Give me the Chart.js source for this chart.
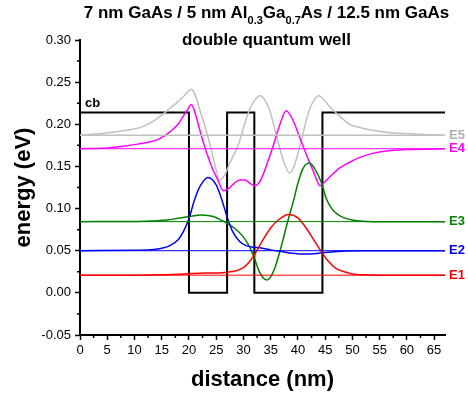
<!DOCTYPE html>
<html>
<head>
<meta charset="utf-8">
<script src="https://cdn.jsdelivr.net/npm/chart.js@4.4.1/dist/chart.umd.min.js"></script>
<style>
  html, body { margin: 0; padding: 0; background: #fff; }
  #wrap { position: relative; width: 468px; height: 394px; }
  #wrap canvas { position: absolute; left: 0; top: 0; }
  .title {
    position: absolute; left: 65px; width: 403px; text-align: center;
    font: bold 17px "Liberation Sans", Arial, sans-serif; line-height: 17px;
    color: #000; white-space: nowrap;
  }
  .title sub { font-size: 11px; vertical-align: -6px; line-height: 0; }
</style>
</head>
<body>
<div id="wrap">
  <canvas id="chart" width="468" height="394"></canvas>
  <div class="title" style="top:4px">7 nm GaAs / 5 nm Al<sub>0.3</sub>Ga<sub>0.7</sub>As / 12.5 nm GaAs</div>
  <div class="title" style="top:31px">double quantum well</div>
</div>
<script>
// energy levels (eV)
const levelNames = ["E1", "E2", "E3", "E4", "E5"];
const levelEnergy = [0.021, 0.050, 0.0845, 0.171, 0.187];
const levelColors = ["#ff0000", "#0000ff", "#008000", "#ff00ff", "#c0c0c0"];
const distanceMax = 67;

// conduction band profile
const cbDistance = [0, 20, 20, 27, 27, 32, 32, 44.5, 44.5, 67];
const cbEnergy = [0.214, 0.214, 0, 0, 0.214, 0.214, 0, 0, 0.214, 0.214];

// wavefunctions (offset by level)
const e1Distance = [0, 10, 15, 18, 20, 23, 26, 27, 28.5, 30, 31, 32, 33.5, 35, 36.5, 38.3, 40, 41.5, 43, 44.5, 45.5, 47, 48.5, 50, 52, 55, 67];
const e1Energy = [0.021, 0.021, 0.0215, 0.022, 0.023, 0.0235, 0.024, 0.0245, 0.026, 0.030, 0.036, 0.045, 0.062, 0.077, 0.087, 0.093, 0.089, 0.077, 0.062, 0.047, 0.038, 0.029, 0.025, 0.0225, 0.0215, 0.021, 0.021];

const e2Distance = [0, 10, 13, 15, 16.5, 18, 19, 20, 21, 22, 23.5, 25, 26, 27, 28, 29.3, 30.5, 32, 33, 35, 37, 39, 41, 43, 45, 48, 52, 67];
const e2Energy = [0.050, 0.0505, 0.051, 0.053, 0.056, 0.063, 0.073, 0.088, 0.110, 0.126, 0.137, 0.128, 0.111, 0.090, 0.073, 0.061, 0.056, 0.054, 0.0535, 0.051, 0.049, 0.047, 0.046, 0.0465, 0.048, 0.0495, 0.050, 0.050];

const e3Distance = [0, 12, 16, 18, 20, 22.3, 24.5, 26, 27, 28.5, 29.9, 31, 31.9, 32.8, 33.6, 34.3, 35, 35.8, 36.6, 37.5, 38.3, 39.1, 40, 40.9, 42.1, 43.2, 44.3, 45.2, 46.2, 47.3, 48.5, 50, 52, 55, 67];
const e3Energy = [0.0845, 0.085, 0.0865, 0.0885, 0.0905, 0.0924, 0.0905, 0.086, 0.0826, 0.076, 0.067, 0.056, 0.043, 0.027, 0.018, 0.0154, 0.019, 0.030, 0.047, 0.069, 0.089, 0.107, 0.130, 0.147, 0.154, 0.146, 0.131, 0.112, 0.100, 0.093, 0.089, 0.0865, 0.085, 0.0845, 0.0845];

const e4Distance = [0, 5, 8, 11, 12.8, 14.65, 16.5, 18, 18.9, 19.7, 20.45, 21.2, 22, 23.2, 24.4, 25.3, 26.3, 27.3, 28.3, 29.3, 30.3, 31.2, 32, 32.8, 33.6, 34.5, 35.4, 36.6, 37.85, 39, 40.3, 41.5, 42.7, 43.4, 44, 44.8, 45.6, 46.4, 47.6, 49.5, 51.5, 53.7, 57, 60, 67];
const e4Energy = [0.171, 0.172, 0.174, 0.177, 0.179, 0.183, 0.191, 0.200, 0.209, 0.217, 0.2236, 0.212, 0.193, 0.167, 0.146, 0.134, 0.121, 0.124, 0.130, 0.134, 0.134, 0.130, 0.127, 0.130, 0.140, 0.156, 0.173, 0.198, 0.216, 0.206, 0.185, 0.165, 0.146, 0.135, 0.127, 0.131, 0.136, 0.141, 0.148, 0.155, 0.161, 0.1655, 0.169, 0.170, 0.171];

const e5Distance = [0, 4, 8.6, 11, 12.8, 14.65, 16.5, 18, 19.3, 20.45, 21.2, 22, 23.5, 24.7, 25.6, 26.5, 27.5, 28.7, 29.3, 30.2, 31.1, 32, 33, 34, 34.8, 35.7, 36.6, 37.6, 38.5, 39.4, 40.3, 41.2, 42.1, 43, 43.8, 44.8, 45.8, 47.6, 49.5, 51.5, 53.7, 57, 60, 64, 67];
const e5Energy = [0.187, 0.189, 0.193, 0.196, 0.201, 0.209, 0.219, 0.227, 0.235, 0.2417, 0.234, 0.217, 0.185, 0.154, 0.134, 0.139, 0.154, 0.170, 0.180, 0.200, 0.217, 0.228, 0.2338, 0.228, 0.217, 0.196, 0.173, 0.152, 0.142, 0.152, 0.173, 0.196, 0.217, 0.229, 0.234, 0.229, 0.221, 0.210, 0.200, 0.196, 0.193, 0.190, 0.189, 0.1875, 0.187];

const waveDistance = [e1Distance, e2Distance, e3Distance, e4Distance, e5Distance];
const waveEnergy = [e1Energy, e2Energy, e3Energy, e4Energy, e5Energy];

const xTickStep = 5;
const yTickStep = 0.05;

function toPoints(xs, ys) {
  return xs.map(function (x, i) { return { x: x, y: ys[i] }; });
}

const datasets = [];
levelEnergy.forEach(function (lvl, i) {
  datasets.push({
    data: [{ x: 0, y: lvl }, { x: distanceMax, y: lvl }],
    borderColor: levelColors[i],
    borderWidth: i === 4 ? 1.6 : 1,
    pointRadius: 0,
  });
});
waveDistance.forEach(function (xs, i) {
  datasets.push({
    data: toPoints(xs, waveEnergy[i]),
    borderColor: levelColors[i],
    borderWidth: 1.5,
    pointRadius: 0,
    cubicInterpolationMode: "monotone",
  });
});
datasets.push({
  data: toPoints(cbDistance, cbEnergy),
  borderColor: "#000",
  borderWidth: 2,
  pointRadius: 0,
});

// minor ticks and the text labels on the plot
const decorations = {
  id: "decorations",
  afterDraw(chart) {
    const ctx = chart.ctx;
    const xs = chart.scales.x;
    const ys = chart.scales.y;
    const area = chart.chartArea;
    ctx.save();
    ctx.strokeStyle = "#000";
    ctx.lineWidth = 1.5;
    ctx.beginPath();
    for (let v = xTickStep / 2; v < distanceMax; v += xTickStep) {
      const px = xs.getPixelForValue(v);
      ctx.moveTo(px, area.bottom);
      ctx.lineTo(px, area.bottom + 3);
    }
    for (let v = -0.025; v < 0.3; v += yTickStep) {
      const py = ys.getPixelForValue(v);
      ctx.moveTo(area.left, py);
      ctx.lineTo(area.left - 3, py);
    }
    ctx.stroke();

    ctx.font = "bold 13px 'Liberation Sans', Arial, sans-serif";
    ctx.textBaseline = "middle";
    ctx.textAlign = "left";
    levelNames.forEach(function (name, i) {
      ctx.fillStyle = i === 4 ? "#b0b0b0" : levelColors[i];
      ctx.fillText(name, area.right + 4, ys.getPixelForValue(levelEnergy[i]));
    });
    ctx.fillStyle = "#000";
    ctx.textBaseline = "alphabetic";
    ctx.fillText("cb", xs.getPixelForValue(0.9), ys.getPixelForValue(0.2205));
    ctx.restore();
  },
};

Chart.defaults.font.family = "'Liberation Sans', Arial, sans-serif";
Chart.defaults.color = "#000";

new Chart(document.getElementById("chart").getContext("2d"), {
  type: "line",
  data: { datasets: datasets },
  options: {
    responsive: false,
    animation: false,
    layout: { padding: { top: 40, right: 23, bottom: 0, left: 0 } },
    plugins: { legend: { display: false }, tooltip: { enabled: false } },
    scales: {
      x: {
        type: "linear",
        min: 0,
        max: distanceMax,
        afterFit: function (s) { s.height = 59; },
        border: { display: true, color: "#000", width: 2 },
        grid: { drawOnChartArea: false, drawTicks: true, tickLength: 5, tickColor: "#000", tickWidth: 1.5 },
        ticks: { stepSize: xTickStep, includeBounds: false, color: "#000", font: { size: 13 }, padding: 3, maxRotation: 0, autoSkip: false },
        title: { display: true, text: "distance (nm)", color: "#000", font: { size: 22, weight: "bold" }, padding: { top: 0, bottom: 1 } },
      },
      y: {
        min: -0.05,
        max: 0.3,
        afterFit: function (s) { s.width = 80; },
        border: { display: true, color: "#000", width: 2 },
        grid: { drawOnChartArea: false, drawTicks: true, tickLength: 5, tickColor: "#000", tickWidth: 1.5 },
        ticks: {
          stepSize: yTickStep, color: "#000", font: { size: 13 }, padding: 4,
          callback: function (v) { return Math.abs(v) < 1e-9 ? "0.00" : Number(v).toFixed(2); },
        },
        title: { display: true, text: "energy (eV)", color: "#000", font: { size: 22, weight: "bold" }, padding: { top: 11, bottom: 0 } },
      },
    },
  },
  plugins: [decorations],
});
</script>
</body>
</html>
